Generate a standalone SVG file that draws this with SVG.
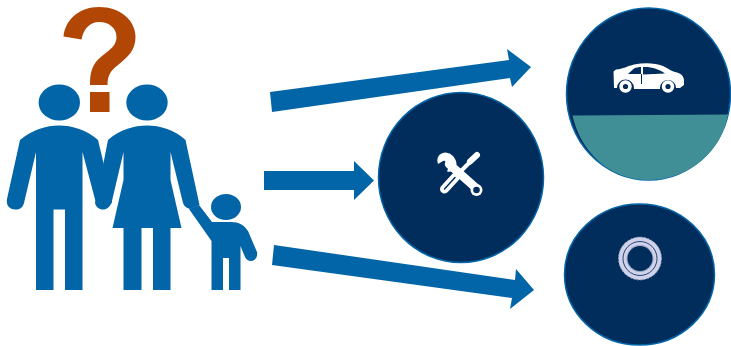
<svg xmlns="http://www.w3.org/2000/svg" width="731" height="346" viewBox="0 0 731 346">
<style>
.b{fill:#0265a8}
.c{fill:#002d5c;stroke:#0265a8;stroke-width:1.5}
.w{fill:#fff}
.d{fill:#002d5c}
.arrow{fill:#0265a8}
.s{fill:none;stroke:#fff;stroke-linecap:round}
</style>
<rect width="731" height="346" fill="#fff"/>
<g id="question-mark"><path fill="#b24605" d="M63.500 36.500C65 20 79 7 99 7C120 7 135.500 20 135.500 37C135.500 50 128 57 118 65C111 70.500 107.500 75 107.500 85H90C90 72 92 64 102 56C111 49 116.500 45 116.500 37C116.500 28 109 22 99 22C90 22 83.500 29 81.500 39.500ZM90 92H109.500V112H90Z"/></g>
<g id="man" class="b">
<ellipse cx="59.300" cy="102.500" rx="20.700" ry="18"/>
<path d="M20 140C32 130 46 125.500 59 125.500C72 125.500 87 130 98 140L104 165L112 203L96 203L82.500 152V290H65V209.500H53.500V290H36V152L24 203C22.500 209 18 210 15 209.500C9 209 6 205 7 199Z"/>
</g>
<g id="woman" class="b">
<ellipse cx="147" cy="102.500" rx="20.700" ry="18"/>
<path d="M108 140C119 130 134 125.500 147 125.500C160 125.500 175 130 185.500 140L199.500 205L190 209C186 208 184 206 183 203L170.500 152V180L181.500 228H170.500V290H153V228H141.500V290H123.500V228H112.500L123.500 180V152L111.500 203C109 208 106 209.500 103 209.500C99 209.500 96 207 95 203L103.500 163Z"/>
</g>
<g id="child" class="b">
<ellipse cx="226" cy="207" rx="15" ry="13"/>
<path d="M199 205L212 222H231C239 222 244 225 248 231L257 252C258 257 255 261 251 261C248 261 246 259 245 257L240.500 246V290H229V258H223V290H211.500V241L189 209Z"/>
</g>
<g id="connectors">
<polygon class="arrow" points="270,92 509,60 507,49 531,67 512,87 510,78 272,112"/>
<polygon class="arrow" points="264,171 354,171 354,161 374,180.500 354,200 354,190 264,190"/>
<polygon class="arrow" points="274,245 515,280 516,269 534,290 510,309 512,298 272,265"/>
</g>
<g id="tools-node">
<ellipse class="c" cx="461" cy="177.500" rx="82.500" ry="85"/>
<path class="s" stroke-width="9" d="M444.500 189L456 176.500"/>
<path class="s" stroke-width="1.500" style="stroke:#002d5c" d="M444.500 189L455 177.500"/>
<path class="s" stroke-width="4" d="M458 174L470 162"/>
<path class="s" stroke-width="6" d="M470 161.500L477 155"/>
<path class="s" stroke-width="8.500" d="M449 164L476 188"/>
<path class="w" d="M445 152.500C439 153 436 158 438 164L444 160.500L449.500 165L447 171.500C453 173 458 168 456 161C454 156 450 152.500 445 152.500Z"/>
<circle class="w" cx="476.500" cy="190" r="6"/>
<circle class="d" cx="476.500" cy="190" r="3.300"/>
</g>
<g id="car-node">
<ellipse class="c" cx="648.500" cy="94" rx="82" ry="86"/>
<path fill="#408f96" d="M572.500 115.500L728 114.500C722 151 689 180 648 180C608 180 580 150 572.500 115.500Z"/>
<path class="w" d="M613.500 71.500L616 69.500C623 69 628 66 634 64.500C645 62.500 655 63 663 66C668 68 671 71 675 72C681 73 684 76 684 81V85L680 88H676A8 8 0 0 0 660 88H634A8 8 0 0 0 617 88H614Z"/>
<rect class="w" x="634" y="85" width="26" height="4"/>
<circle class="w" cx="625.500" cy="86.500" r="6.200"/><circle class="d" cx="625.500" cy="86.500" r="2.600"/>
<circle class="w" cx="668" cy="86.500" r="6.200"/><circle class="d" cx="668" cy="86.500" r="2.600"/>
<path class="d" d="M628 74L634 68.500C636 67.500 639 67 641 67V74ZM643 67C651 66.500 659 69 665 73.500L643 74.500Z"/>
<rect class="d" x="641" y="74" width="1" height="10"/>
</g>
<g id="wheel-node">
<ellipse class="c" cx="639.500" cy="274.500" rx="75" ry="70.500"/>
<circle cx="640" cy="258.500" r="21.500" fill="#cfd2e8"/>
<circle cx="640" cy="258.500" r="21.500" fill="none" stroke="#8f9cc4" stroke-width="1" stroke-dasharray="1.500 2"/>
<circle cx="640" cy="258.500" r="17" fill="none" stroke="#26457a" stroke-width="1"/>
<circle cx="640" cy="258.500" r="13.500" fill="#9aa5c8"/>
<circle class="d" cx="640" cy="258.500" r="12.500"/>
</g>
</svg>
